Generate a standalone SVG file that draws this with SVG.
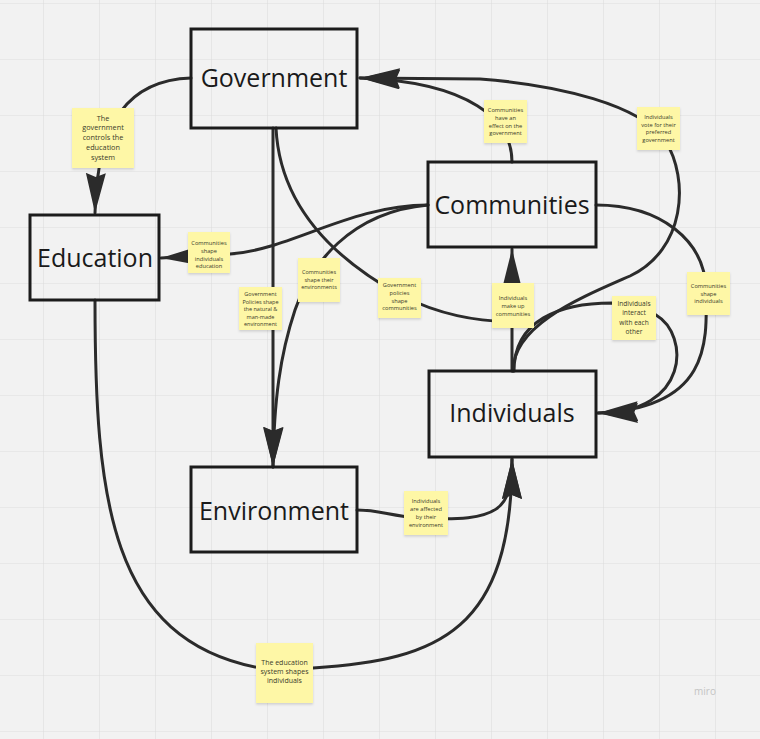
<svg xmlns="http://www.w3.org/2000/svg" width="760" height="739" viewBox="0 0 760 739">
<defs>
<pattern id="grid" x="43" y="3" width="56" height="56" patternUnits="userSpaceOnUse">
<path d="M0,0 V56 M0,0 H56" fill="none" stroke="#dedede" stroke-width="1.2"/>
</pattern>
<marker id="arr" markerUnits="userSpaceOnUse" markerWidth="42" markerHeight="22" refX="40" refY="10" orient="auto" viewBox="0 0 42 22">
<path d="M40,10 L0,0 L4,10 L0,20 Z" fill="#2b2b2b"/>
</marker>
<filter id="sh" x="-20%" y="-20%" width="140%" height="150%">
<feDropShadow dx="0" dy="1.5" stdDeviation="1.2" flood-color="#000" flood-opacity="0.15"/>
</filter>
<style>
.box{fill:none;stroke:#1c1c1c;stroke-width:3}
.lbl{font-family:"Open Sans","Noto Sans","Liberation Sans",sans-serif;font-size:25px;fill:#1a1a1a;text-anchor:middle}
.c{fill:none;stroke:#2b2b2b;stroke-width:3;stroke-linecap:round}
.ar{marker-end:url(#arr)}
.note rect{fill:#fef7a6;filter:url(#sh)}
.note text{font-family:"Open Sans","Noto Sans","Liberation Sans",sans-serif;fill:#3a3a2a;text-anchor:middle;font-size:5.7px}
</style>
</defs>
<rect width="760" height="739" fill="#f2f2f2"/>
<rect width="760" height="739" fill="url(#grid)"/>

<g id="connectors">
<path class="c ar" d="M191,78 C130,80 97,120 95,213"/>
<path class="c ar" d="M273,128 L273,467"/>
<path class="c" d="M276,128 C280,210 340,262 400,295 C440,315 475,321 512,322"/>
<path class="c ar" d="M428,205 C350,205 290,250 230,254 L161,258"/>
<path class="c ar" d="M428,205 C350,212 310,265 295,310 C280,355 274,400 273,467"/>
<path class="c ar" d="M512,162 C512,120 470,82 360,78"/>
<path class="c ar" d="M513,371 C513,325 580,298 630,276 C685,250 690,180 665,140 C640,105 560,85 480,79 L360,78"/>
<path class="c ar" d="M512,371 L512,249"/>
<path class="c ar" d="M514,371 C514,320 560,303 612,303 L656,315 C690,335 690,413 598,413"/>
<path class="c ar" d="M596,205 C660,205 705,240 706,290 C707,340 712,408 598,413"/>
<path class="c ar" d="M357,510 C380,510 390,516 420,518 C500,522 512,510 512,459"/>
<path class="c ar" d="M95,300 C95,500 110,640 260,668 L313,668 C440,660 512,630 512,459"/>
</g>

<g id="government"><rect class="box" x="191" y="29" width="166" height="99"/><text class="lbl" x="274" y="87">Government</text></g>
<g id="education"><rect class="box" x="30" y="215" width="129" height="85"/><text class="lbl" x="95" y="267">Education</text></g>
<g id="communities"><rect class="box" x="428" y="162" width="168" height="85"/><text class="lbl" x="512" y="214">Communities</text></g>
<g id="individuals"><rect class="box" x="429" y="371" width="167" height="86"/><text class="lbl" x="512" y="422">Individuals</text></g>
<g id="environment"><rect class="box" x="191" y="467" width="166" height="85"/><text class="lbl" x="274" y="520">Environment</text></g>

<g id="note-gov-edu" class="note"><rect x="72" y="108" width="62" height="60"/>
<text style="font-size:7.3px"><tspan x="103" y="120.5">The</tspan><tspan x="103" y="130.3">government</tspan><tspan x="103" y="140.1">controls the</tspan><tspan x="103" y="149.9">education</tspan><tspan x="103" y="159.7">system</tspan></text></g>
<g id="note-com-edu" class="note"><rect x="188" y="232" width="42" height="41"/>
<text><tspan x="209" y="245">Communities</tspan><tspan x="209" y="253">shape</tspan><tspan x="209" y="260.5">individuals</tspan><tspan x="209" y="268">education</tspan></text></g>
<g id="note-gov-env" class="note"><rect x="239" y="287" width="43" height="43"/>
<text style="font-size:5.5px"><tspan x="260.5" y="296">Government</tspan><tspan x="260.5" y="303.5">Policies shape</tspan><tspan x="260.5" y="311">the natural &amp;</tspan><tspan x="260.5" y="318.5">man-made</tspan><tspan x="260.5" y="326">environment</tspan></text></g>
<g id="note-com-env" class="note"><rect x="298" y="258" width="42" height="44"/>
<text style="font-size:5.5px"><tspan x="319" y="274">Communities</tspan><tspan x="319" y="281.5">shape their</tspan><tspan x="319" y="289">environments</tspan></text></g>
<g id="note-gov-com" class="note"><rect x="378" y="278" width="43" height="40"/>
<text><tspan x="399.5" y="287">Government</tspan><tspan x="399.5" y="295">policies</tspan><tspan x="399.5" y="302.5">shape</tspan><tspan x="399.5" y="310">communities</tspan></text></g>
<g id="note-com-gov" class="note"><rect x="484" y="100" width="43" height="43"/>
<text><tspan x="505.5" y="112">Communities</tspan><tspan x="505.5" y="120">have an</tspan><tspan x="505.5" y="127.5">effect on the</tspan><tspan x="505.5" y="135">government</tspan></text></g>
<g id="note-ind-gov" class="note"><rect x="637" y="107" width="43" height="43"/>
<text><tspan x="658.5" y="119">Individuals</tspan><tspan x="658.5" y="126.5">vote for their</tspan><tspan x="658.5" y="134">preferred</tspan><tspan x="658.5" y="141.5">government</tspan></text></g>
<g id="note-ind-com" class="note"><rect x="492" y="283" width="42" height="45"/>
<text><tspan x="513" y="300">Individuals</tspan><tspan x="513" y="308">make up</tspan><tspan x="513" y="316">communities</tspan></text></g>
<g id="note-ind-ind" class="note"><rect x="612" y="296" width="44" height="44"/>
<text style="font-size:6.6px"><tspan x="634" y="305.5">Individuals</tspan><tspan x="634" y="315">interact</tspan><tspan x="634" y="324.5">with each</tspan><tspan x="634" y="334">other</tspan></text></g>
<g id="note-com-ind" class="note"><rect x="687" y="272" width="43" height="43"/>
<text><tspan x="708.5" y="288">Communities</tspan><tspan x="708.5" y="295.5">shape</tspan><tspan x="708.5" y="303">individuals</tspan></text></g>
<g id="note-env-ind" class="note"><rect x="404" y="491" width="44" height="44"/>
<text><tspan x="426" y="503">Individuals</tspan><tspan x="426" y="511">are affected</tspan><tspan x="426" y="519">by their</tspan><tspan x="426" y="527">environment</tspan></text></g>
<g id="note-edu-ind" class="note"><rect x="256" y="643" width="57" height="60"/>
<text style="font-size:7px"><tspan x="284.5" y="665">The education</tspan><tspan x="284.5" y="674">system shapes</tspan><tspan x="284.5" y="683">individuals</tspan></text></g>

<text x="705" y="695" font-family="'Open Sans','Liberation Sans',sans-serif" font-size="10" fill="#c4c4c4" text-anchor="middle">miro</text>
</svg>
